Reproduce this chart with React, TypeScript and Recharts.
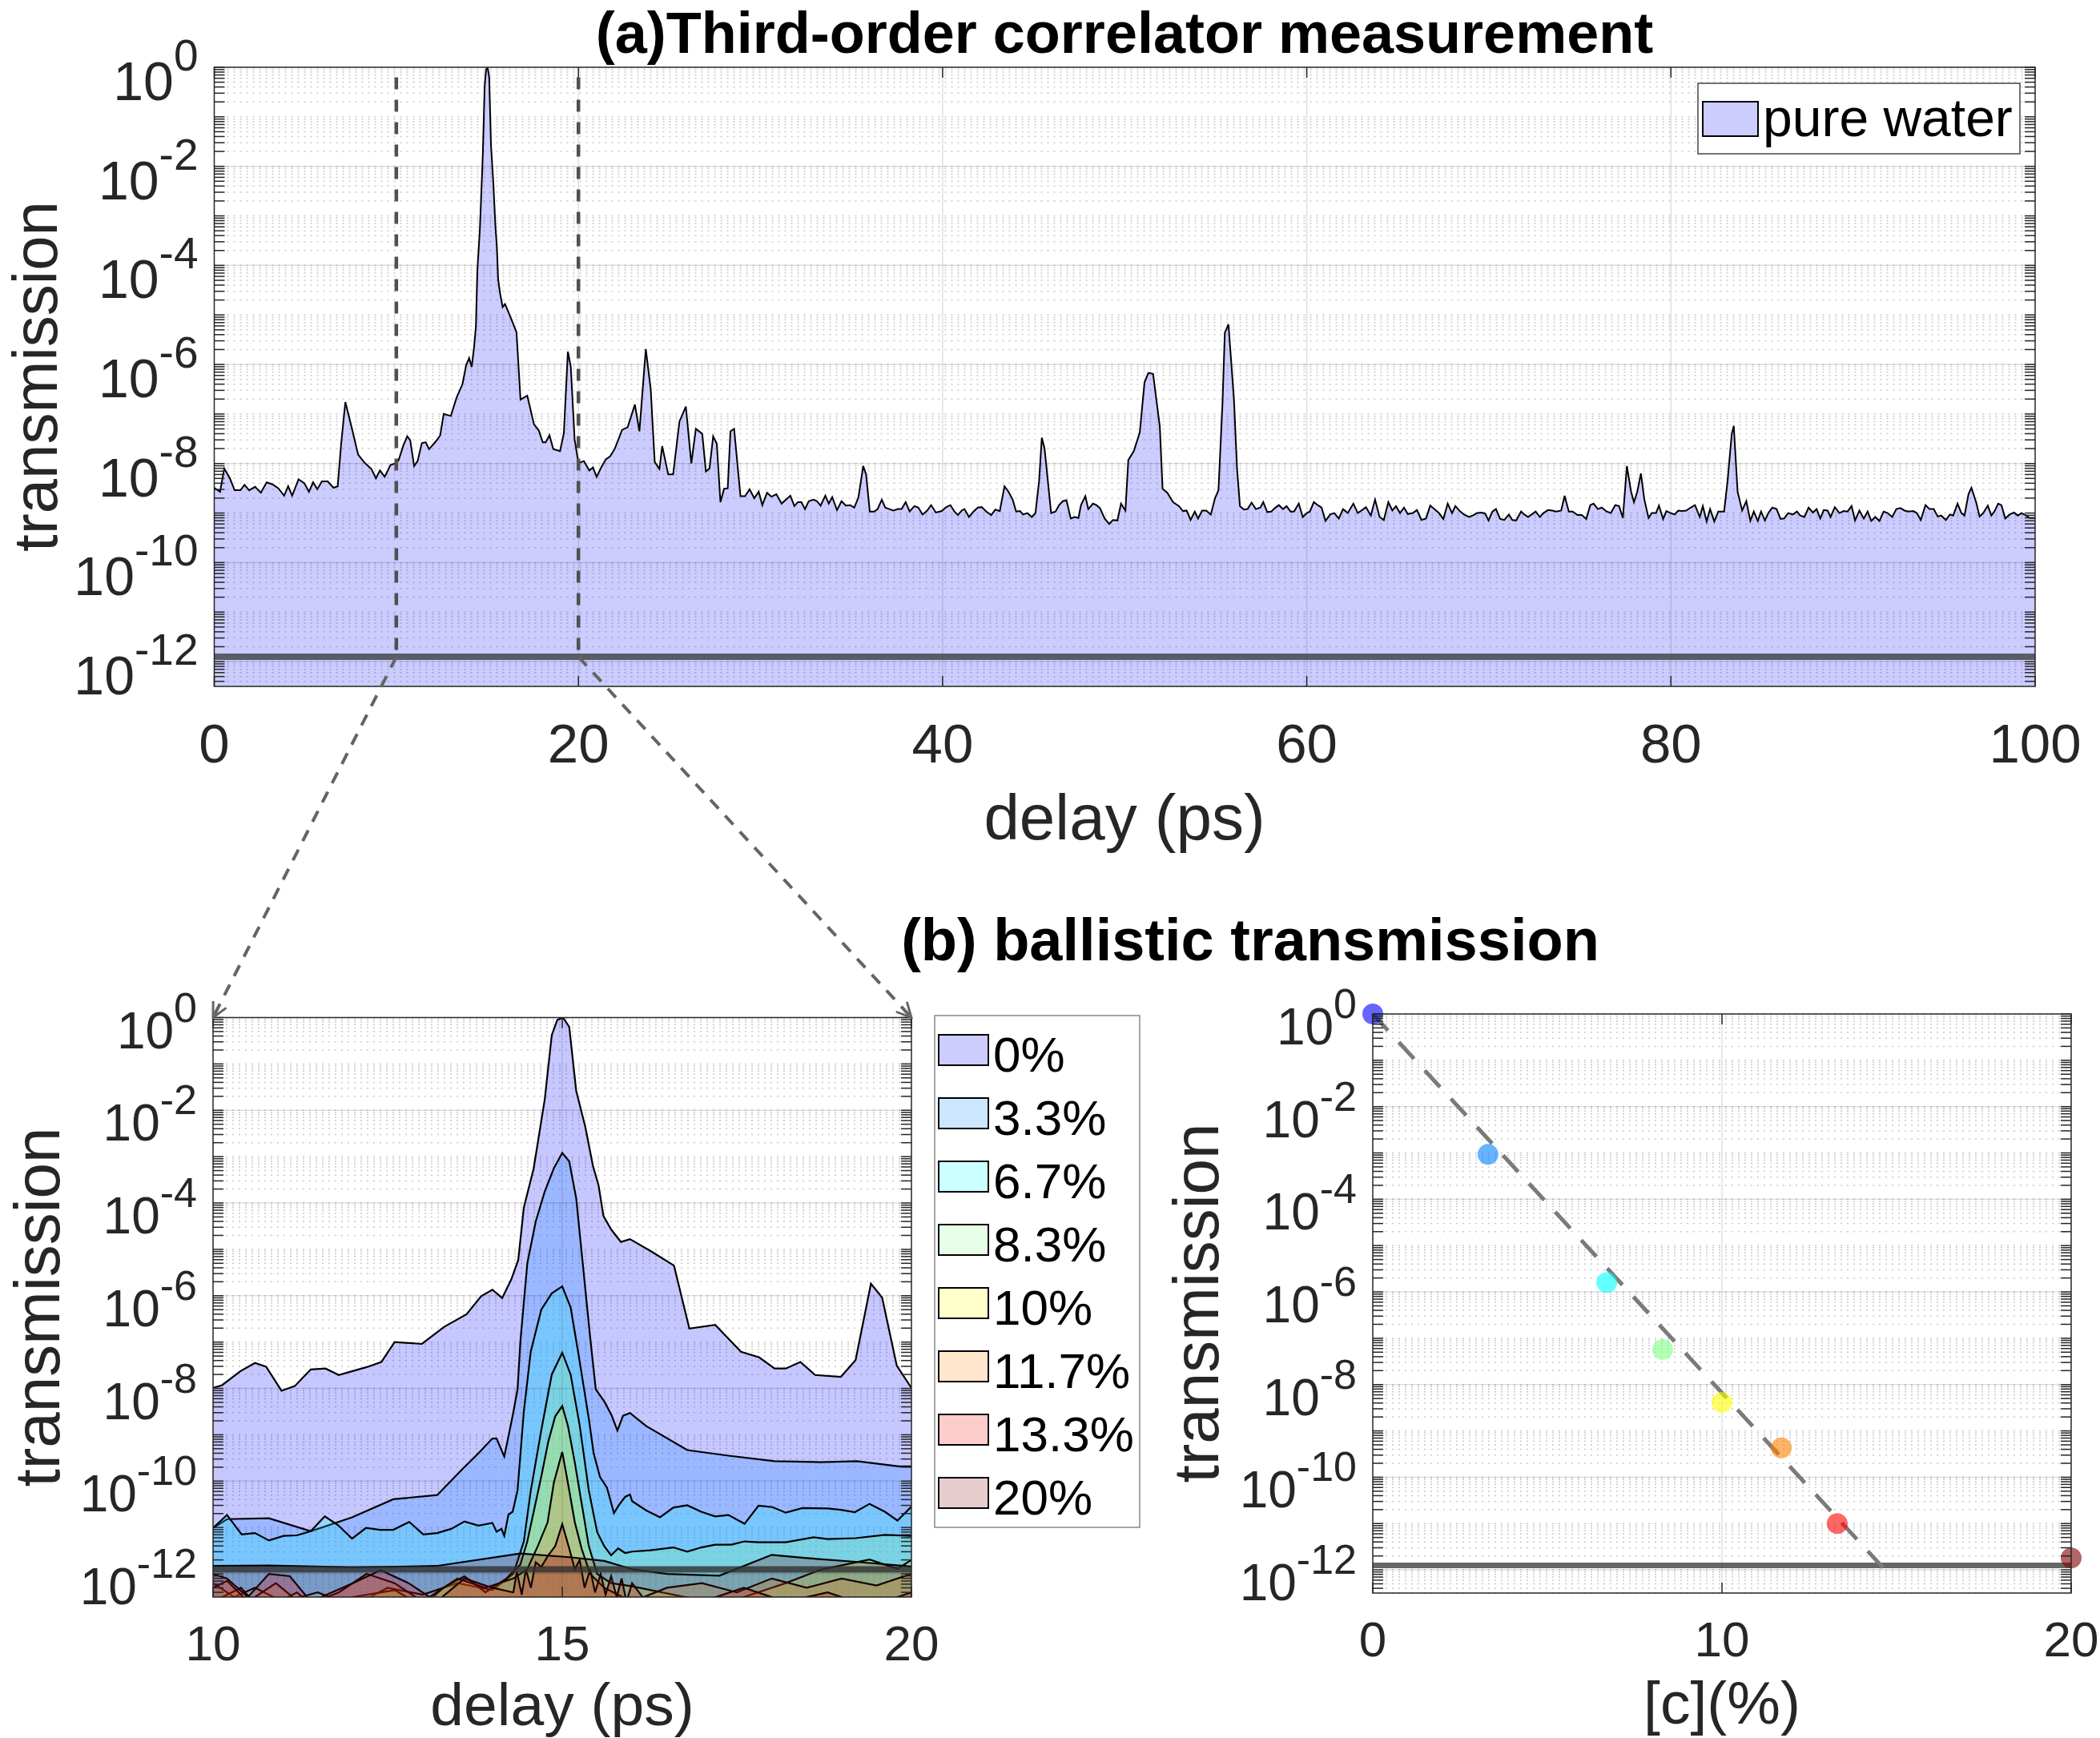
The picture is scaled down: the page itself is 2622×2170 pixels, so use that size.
import React from 'react';
import {
  ComposedChart,
  Area,
  Line,
  Scatter,
  XAxis,
  YAxis,
  CartesianGrid,
  ReferenceLine,
} from 'recharts';

// ---------- data (delay in ps, log10 of transmission) ----------

// pure water trace outside the 10-20 ps zoom window
const waterEarly: [number, number][] = [
  [0, -8.49], [0.32, -8.57], [0.55, -8.1], [0.86, -8.3], [1.12, -8.54], [1.44, -8.54], [1.66, -8.43],
  [1.92, -8.54], [2.24, -8.47], [2.56, -8.59], [2.88, -8.38], [3.2, -8.42], [3.52, -8.5], [3.84, -8.65],
  [4.06, -8.46], [4.28, -8.65], [4.63, -8.32], [4.95, -8.4], [5.2, -8.57], [5.43, -8.38], [5.66, -8.52],
  [5.91, -8.36], [6.23, -8.36], [6.55, -8.49], [6.78, -8.46], [6.97, -7.6], [7.2, -6.76], [7.54, -7.26],
  [7.9, -7.82], [8.27, -7.99], [8.63, -8.11], [8.88, -8.3], [9.1, -8.14], [9.36, -8.27], [9.68, -8.03],
];

const waterLate: [number, number][] = [
  [20.3, -7.95], [20.6, -8.14], [20.8, -8.08], [21.0, -8.27], [21.25, -8.08], [21.5, -7.92], [21.75, -7.85],
  [22.0, -7.7], [22.4, -7.32], [22.7, -7.27], [23.1, -6.81], [23.35, -7.35], [23.7, -5.69], [23.97, -6.5],
  [24.19, -7.97], [24.45, -8.11], [24.6, -7.65], [24.93, -8.22], [25.2, -8.22], [25.55, -7.15], [25.9, -6.85],
  [26.2, -8.0], [26.45, -7.3], [26.8, -7.4], [27.0, -8.16], [27.2, -8.1], [27.4, -7.45], [27.6, -7.6],
  [27.8, -8.78], [28.0, -8.51], [28.2, -8.5], [28.35, -7.35], [28.55, -7.3], [28.9, -8.66], [29.15, -8.66],
  [29.4, -8.52], [29.66, -8.7], [29.9, -8.57], [30.1, -8.84], [30.36, -8.59], [30.6, -8.67], [30.87, -8.62],
  [31.16, -8.81], [31.4, -8.73], [31.64, -8.65], [31.86, -8.86], [32.05, -8.78], [32.25, -8.78], [32.44, -8.92],
  [32.65, -8.76], [32.92, -8.73], [33.1, -8.76], [33.3, -8.85], [33.56, -8.65], [33.75, -8.81], [33.94, -8.68],
  [34.2, -8.94], [34.45, -8.76], [34.68, -8.85], [34.93, -8.84], [35.15, -8.89], [35.38, -8.68], [35.64, -8.05],
  [35.8, -8.22], [36.0, -8.97], [36.25, -8.97], [36.43, -8.92], [36.66, -8.73], [36.85, -8.89], [37.07, -8.92],
  [37.3, -8.95], [37.55, -8.92], [37.75, -8.92], [37.97, -8.78], [38.19, -8.97], [38.45, -8.86], [38.67, -8.89],
  [38.9, -9.03], [39.15, -8.95], [39.37, -8.84], [39.63, -8.99], [39.95, -8.96], [40.2, -8.88], [40.43, -8.84],
  [40.65, -8.97], [40.84, -9.04], [41.05, -8.95], [41.2, -8.92], [41.45, -9.08], [41.7, -8.97], [41.93, -8.89],
  [42.15, -8.88], [42.4, -8.97], [42.67, -9.04], [42.9, -8.93], [43.14, -8.96], [43.4, -8.46], [43.62, -8.57],
  [43.85, -8.73], [44.04, -8.97], [44.25, -8.96], [44.42, -9.03], [44.65, -9.0], [44.9, -9.08], [45.1, -9.0],
  [45.3, -8.35], [45.45, -7.48], [45.6, -7.7], [45.96, -9.0], [46.2, -8.97], [46.4, -8.84], [46.6, -8.76],
  [46.8, -8.74], [47.04, -9.11], [47.25, -9.08], [47.46, -9.1], [47.6, -8.84], [47.84, -8.66], [48.0, -8.92],
  [48.26, -8.81], [48.45, -8.84], [48.64, -8.9], [48.9, -9.11], [49.15, -9.22], [49.35, -9.14], [49.6, -9.15],
  [49.8, -8.81], [50.04, -8.95], [50.2, -7.93], [50.5, -7.75], [50.83, -7.37], [51.09, -6.36], [51.3, -6.17],
  [51.56, -6.19], [51.93, -7.26], [52.08, -8.51], [52.34, -8.59], [52.66, -8.78], [52.98, -8.86], [53.2, -8.96],
  [53.4, -8.95], [53.62, -9.14], [53.85, -8.97], [54.03, -9.11], [54.25, -8.95], [54.48, -8.95], [54.73, -9.03],
  [54.96, -8.7], [55.15, -8.54], [55.37, -6.8], [55.5, -5.36], [55.7, -5.19], [56.0, -6.7], [56.17, -8.1],
  [56.33, -8.86], [56.55, -8.93], [56.75, -8.92], [56.97, -8.79], [57.2, -8.92], [57.45, -8.89], [57.61, -8.78],
  [57.83, -8.98], [58.05, -8.97], [58.25, -8.9], [58.47, -8.84], [58.7, -8.92], [58.89, -8.86], [59.11, -8.97],
  [59.3, -8.97], [59.56, -8.81], [59.78, -9.08], [60.0, -9.0], [60.17, -8.97], [60.39, -8.78], [60.6, -8.84],
  [60.81, -8.89], [61.03, -9.16], [61.28, -9.03], [61.51, -9.0], [61.76, -9.11], [61.99, -8.92], [62.25, -9.0],
  [62.56, -8.81], [62.8, -9.0], [63.04, -8.94], [63.25, -8.88], [63.52, -9.05], [63.75, -8.73], [64.0, -9.08],
  [64.23, -9.14], [64.48, -8.78], [64.7, -8.95], [64.9, -8.86], [65.12, -9.0], [65.34, -8.89], [65.55, -9.02],
  [65.82, -9.0], [66.05, -8.94], [66.3, -9.14], [66.55, -9.11], [66.78, -8.85], [67.0, -8.92], [67.26, -9.0],
  [67.5, -9.12], [67.74, -8.81], [67.98, -9.0], [68.16, -8.86], [68.4, -8.96], [68.64, -9.03], [68.9, -9.08],
  [69.12, -9.05], [69.35, -9.0], [69.6, -8.99], [69.8, -9.01], [69.98, -9.15], [70.2, -8.97], [70.39, -8.92],
  [70.62, -9.12], [70.85, -9.14], [71.1, -9.03], [71.29, -9.14], [71.5, -9.15], [71.77, -8.97], [71.95, -9.03],
  [72.15, -9.08], [72.35, -9.03], [72.57, -8.97], [72.8, -9.08], [73.0, -9.0], [73.25, -8.94], [73.49, -8.95],
  [73.7, -8.97], [73.97, -8.95], [74.16, -8.65], [74.39, -8.97], [74.6, -8.97], [74.87, -9.04], [75.1, -9.04],
  [75.35, -9.12], [75.57, -8.84], [75.75, -8.81], [75.99, -8.92], [76.2, -8.89], [76.47, -8.97], [76.7, -9.0],
  [76.94, -8.84], [77.15, -8.86], [77.36, -9.1], [77.58, -8.05], [77.81, -8.57], [77.97, -8.78], [78.15, -8.57],
  [78.35, -8.2], [78.54, -8.73], [78.77, -9.1], [78.95, -9.0], [79.18, -9.0], [79.34, -8.85], [79.57, -9.12],
  [79.75, -8.96], [79.98, -9.0], [80.2, -9.03], [80.4, -8.95], [80.6, -8.96], [80.84, -8.95], [81.08, -8.89],
  [81.32, -8.84], [81.58, -9.08], [81.75, -8.86], [81.96, -9.17], [82.15, -8.92], [82.38, -9.17], [82.6, -8.97],
  [82.92, -8.97], [83.11, -8.35], [83.34, -7.4], [83.45, -7.24], [83.66, -8.57], [83.91, -8.95], [84.14, -8.76],
  [84.36, -9.16], [84.55, -8.97], [84.77, -9.16], [84.95, -8.97], [85.16, -9.15], [85.35, -9.0], [85.57, -8.89],
  [85.8, -8.92], [86.02, -9.12], [86.22, -9.11], [86.44, -9.0], [86.7, -9.03], [86.92, -8.97], [87.1, -9.05],
  [87.33, -9.08], [87.56, -8.89], [87.8, -8.99], [88.0, -8.92], [88.2, -9.11], [88.39, -8.94], [88.6, -8.95],
  [88.77, -9.08], [89.0, -8.88], [89.25, -9.0], [89.48, -8.96], [89.7, -8.97], [89.92, -8.86], [90.11, -9.15],
  [90.35, -8.95], [90.59, -9.11], [90.8, -8.97], [91.0, -9.16], [91.22, -9.08], [91.45, -9.16], [91.68, -8.97],
  [91.9, -9.0], [92.15, -9.08], [92.38, -8.92], [92.6, -8.9], [92.83, -8.95], [93.05, -8.97], [93.31, -8.96],
  [93.5, -9.0], [93.72, -9.14], [93.98, -8.84], [94.2, -8.92], [94.43, -8.92], [94.65, -9.07], [94.84, -9.05],
  [95.1, -9.14], [95.32, -9.03], [95.5, -9.05], [95.74, -8.81], [95.95, -9.0], [96.12, -9.05], [96.34, -8.62],
  [96.5, -8.49], [96.76, -8.78], [96.95, -9.07], [97.15, -9.0], [97.4, -8.85], [97.6, -9.05], [97.78, -8.96],
  [97.97, -8.81], [98.15, -8.84], [98.36, -9.11], [98.6, -9.03], [98.84, -8.99], [99.05, -9.05], [99.25, -9.0],
  [99.5, -9.05], [99.7, -9.1], [100, -9.1],
];

// zoom window 10-20 ps, one trace per concentration
const trace0: [number, number][] = [
  [10, -7.99], [10.13, -7.93], [10.39, -7.63], [10.6, -7.45], [10.76, -7.53], [10.98, -8.05], [11.17, -7.95],
  [11.4, -7.59], [11.61, -7.57], [11.8, -7.71], [12.2, -7.54], [12.41, -7.43], [12.6, -7.0], [12.99, -7.04],
  [13.31, -6.67], [13.63, -6.4], [13.84, -6.01], [14.0, -5.87], [14.14, -6.05], [14.27, -5.65], [14.37, -5.23],
  [14.45, -4.1], [14.59, -3.26], [14.75, -1.76], [14.85, -0.38], [14.93, -0.05], [15.01, 0], [15.1, -0.2],
  [15.2, -1.58], [15.33, -2.36], [15.44, -3.2], [15.52, -3.62], [15.59, -4.28], [15.7, -4.57], [15.84, -4.84],
  [15.97, -4.78], [16.28, -5.05], [16.6, -5.35], [16.82, -6.71], [17.19, -6.63], [17.56, -7.21], [17.82, -7.33],
  [18.04, -7.57], [18.2, -7.57], [18.41, -7.43], [18.62, -7.71], [18.99, -7.75], [19.2, -7.39], [19.42, -5.74],
  [19.58, -6.04], [19.79, -7.51], [20, -7.99],
];
const trace33: [number, number][] = [
  [10, -11.01], [10.2, -10.82], [10.8, -10.8], [11.4, -11.08], [11.99, -10.78], [12.58, -10.39], [13.21, -10.3],
  [13.57, -9.74], [13.8, -9.4], [14.0, -9.08], [14.06, -9.08], [14.17, -9.47], [14.29, -8.59], [14.36, -8.02],
  [14.4, -7.0], [14.5, -5.3], [14.62, -4.4], [14.75, -3.75], [14.88, -3.25], [15.0, -2.92], [15.1, -3.1],
  [15.2, -3.9], [15.3, -5.4], [15.4, -6.9], [15.48, -8.02], [15.61, -8.3], [15.71, -8.59], [15.79, -8.91],
  [15.87, -8.59], [15.97, -8.53], [16.2, -8.81], [16.79, -9.33], [17.38, -9.45], [18.04, -9.57], [18.7, -9.59],
  [19.22, -9.57], [19.82, -9.68], [20, -9.68],
];
const trace67: [number, number][] = [
  [10, -11.01], [10.2, -10.73], [10.41, -11.15], [10.6, -11.12], [10.8, -11.28], [11.01, -11.18], [11.2, -11.17],
  [11.4, -11.08], [11.6, -10.76], [11.79, -10.95], [11.99, -11.24], [12.19, -11.01], [12.39, -11.05], [12.58, -11.05],
  [12.81, -10.88], [13.01, -11.15], [13.21, -11.12], [13.41, -11.03], [13.6, -10.87], [13.8, -10.96], [14.0, -10.9],
  [14.06, -11.09], [14.13, -11.03], [14.17, -11.18], [14.23, -10.72], [14.29, -10.66], [14.36, -10.2], [14.45, -8.5],
  [14.55, -7.2], [14.7, -6.3], [14.85, -5.95], [15.0, -5.8], [15.12, -6.25], [15.24, -7.33], [15.38, -8.65],
  [15.45, -9.4], [15.54, -9.91], [15.64, -10.14], [15.74, -10.69], [15.81, -10.52], [15.9, -10.34], [15.97, -10.29],
  [16.0, -10.43], [16.2, -10.63], [16.4, -10.78], [16.59, -10.57], [16.79, -10.52], [16.99, -10.66], [17.19, -10.76],
  [17.38, -10.73], [17.61, -10.92], [17.81, -10.53], [18.01, -10.56], [18.2, -10.68], [18.44, -10.58], [18.8, -10.59],
  [18.99, -10.62], [19.19, -10.67], [19.4, -10.49], [19.62, -10.66], [19.8, -10.85], [20, -10.55],
];
const trace83: [number, number][] = [
  [10, -12.2], [10.3, -12.5], [10.6, -12.3], [11, -12.6], [11.5, -12.4], [12, -12.7], [12.5, -12.3], [13, -12.45],
  [13.5, -12.2], [14.0, -12.35], [14.3, -12.0], [14.45, -11.3], [14.55, -10.2], [14.7, -8.9], [14.85, -7.7],
  [15.0, -7.23], [15.12, -7.7], [15.25, -8.8], [15.38, -10.2], [15.5, -11.1], [15.6, -11.4], [15.7, -11.6],
  [15.8, -11.45], [15.9, -11.55], [16.0, -11.52], [16.26, -11.49], [16.59, -11.43], [16.79, -11.52], [16.99, -11.43],
  [17.19, -11.37], [17.42, -11.37], [17.61, -11.3], [17.81, -11.32], [18.2, -11.32], [18.6, -11.21], [18.8, -11.25],
  [19.2, -11.23], [19.62, -11.16], [20, -11.18],
];
const trace10: [number, number][] = [
  [10, -12.6], [10.4, -12.3], [10.7, -12.8], [11.2, -12.4], [11.6, -12.9], [12.0, -12.5], [12.6, -12.35],
  [13.0, -12.7], [13.3, -12.3], [13.6, -12.05], [13.9, -12.4], [14.2, -12.1], [14.4, -11.8], [14.5, -11.3],
  [14.6, -10.6], [14.7, -9.9], [14.8, -9.15], [14.9, -8.6], [15.0, -8.38], [15.08, -8.8], [15.18, -9.6],
  [15.28, -10.5], [15.38, -11.4], [15.5, -12.0], [15.7, -12.2], [16.0, -12.27], [16.79, -12.51], [17.2, -12.7],
  [17.8, -12.4], [18.2, -12.2], [18.7, -11.91], [19.4, -11.69], [19.8, -11.89], [20, -11.7],
];
const trace117: [number, number][] = [
  [10, -12.3], [10.2, -12.15], [10.5, -12.6], [10.9, -12.2], [11.3, -12.7], [11.8, -12.4], [12.2, -12.0],
  [12.6, -12.2], [13.0, -12.6], [13.5, -12.1], [13.9, -12.3], [14.3, -12.1], [14.5, -11.9], [14.65, -11.4],
  [14.79, -10.89], [14.88, -10.03], [15.0, -9.37], [15.08, -10.03], [15.18, -10.89], [15.28, -11.47], [15.4, -12.0],
  [15.6, -12.3], [16.0, -12.6], [16.5, -12.3], [17.0, -12.2], [17.5, -12.4], [18.0, -12.1], [18.5, -12.3],
  [19.0, -12.1], [19.5, -12.25], [20, -12.0],
];
const trace133: [number, number][] = [
  [10, -12.0], [10.2, -12.1], [10.5, -12.5], [10.8, -12.0], [11.1, -12.05], [11.4, -12.6], [12.0, -12.2],
  [12.4, -11.92], [12.8, -12.2], [13.2, -12.6], [13.6, -12.1], [14.0, -12.3], [14.3, -12.4], [14.35, -11.95],
  [14.42, -12.45], [14.48, -11.9], [14.55, -12.3], [14.62, -11.75], [14.7, -11.85], [14.8, -11.6], [14.9, -11.4],
  [15.0, -10.93], [15.1, -11.45], [15.18, -11.9], [15.25, -11.7], [15.32, -12.3], [15.4, -11.9], [15.47, -12.4],
  [15.55, -12.0], [15.62, -12.45], [15.7, -12.05], [15.78, -12.5], [15.85, -12.1], [15.92, -12.6], [16.0, -12.2],
  [16.3, -12.8], [17.0, -12.6], [17.6, -12.3], [18.2, -12.6], [18.8, -12.4], [19.4, -12.7], [20, -12.4],
];
const trace20: [number, number][] = [
  [10, -11.83], [10.8, -11.82], [12, -11.86], [13.2, -11.83], [14.4, -11.56], [15.1, -11.64], [15.6, -11.72],
  [16.0, -11.9], [16.5, -12.0], [17.25, -12.04], [18.0, -11.59], [18.5, -11.66], [19.2, -11.74], [20, -11.84],
];

const concLabels = ['0%', '3.3%', '6.7%', '8.3%', '10%', '11.7%', '13.3%', '20%'];
const concValues = [0, 3.3, 6.7, 8.3, 10, 11.7, 13.3, 20];
const seriesColors = ['#0000ff', '#0080ff', '#00ffff', '#80ff80', '#ffff00', '#ff8000', '#ff0000', '#800000'];
const zoomTraces = [trace0, trace33, trace67, trace83, trace10, trace117, trace133, trace20];

// ballistic (peak) transmission per concentration
const ballisticT = [1.0, 9.3e-4, 1.6e-6, 5.7e-8, 4.1e-9, 4.3e-10, 1.0e-11, 1.8e-12];
const fitC = [0, 14.9];
const fitT = [1, 6.5e-13];
const noiseFloor = 1.25e-12;

// ---------- layout ----------
const FONT = '"Liberation Sans", Arial, Helvetica, sans-serif';
const INK = '#262626';
const Y_MIN = Math.pow(10, -12.5);
const Y_DOMAIN: [number, number] = [Y_MIN, 1];

type Rect = { l: number; t: number; r: number; b: number };
type Panel = { left: number; top: number; width: number; height: number; plot: Rect };

const TOP: Panel = { left: 0, top: 0, width: 2622, height: 1100, plot: { l: 267.5, t: 84, r: 2541, b: 857 } };
const BL: Panel = { left: 0, top: 1150, width: 1450, height: 1020, plot: { l: 266, t: 1270.5, r: 1138, b: 1994 } };
const BR: Panel = { left: 1450, top: 1150, width: 1172, height: 1020, plot: { l: 1714, t: 1266, r: 2586, b: 1989 } };
const X_AXIS_H = 60;

const localPlot = (p: Panel): Rect => ({
  l: p.plot.l - p.left, t: p.plot.t - p.top, r: p.plot.r - p.left, b: p.plot.b - p.top,
});
const chartMargin = (p: Panel) => ({
  top: p.plot.t - p.top,
  right: p.left + p.width - p.plot.r,
  bottom: p.top + p.height - p.plot.b - X_AXIS_H,
  left: 0,
});

// log axis ticks: every decade plus 2..9 minors
const logTicks: number[] = [];
for (let e = -13; e <= 0; e++) {
  for (let k = 1; k <= 9; k++) {
    const v = k * Math.pow(10, e);
    if (v >= Y_MIN * 0.999 && v <= 1.0001) logTicks.push(v);
  }
}
const majorDecades = [-12, -10, -8, -6, -4, -2];

const toPoints = (pairs: [number, number][]) => pairs.map(([x, lg]) => ({ x, y: Math.pow(10, lg) }));
const waterData = toPoints([...waterEarly, ...trace0, ...waterLate]);
const zoomData = zoomTraces.map(toPoints);
const ballisticData = concValues.map((c, i) => ({ c, t: ballisticT[i], color: seriesColors[i] }));
const fitData = fitC.map((c, i) => ({ c, t: fitT[i] }));

const makeYTick = (p: Rect, big: number, sup: number, base: number, lift: number) => (props: any) => {
  const { y, payload } = props;
  const e = Math.log10(payload.value);
  const re = Math.round(e);
  const labelled = Math.abs(e - re) < 1e-6 && re % 2 === 0;
  return (
    <g>
      <line x1={p.l} x2={p.l + 13} y1={y} y2={y} stroke={INK} strokeWidth={1.5} />
      <line x1={p.r - 13} x2={p.r} y1={y} y2={y} stroke={INK} strokeWidth={1.5} />
      {labelled && (
        <text x={p.l - 20} y={y + base} textAnchor="end" fontSize={big} fill={INK} fontFamily={FONT}>
          10
          <tspan dy={-lift} fontSize={sup}>{String(re === 0 ? 0 : re)}</tspan>
        </text>
      )}
    </g>
  );
};

const makeXTick = (p: Rect, size: number, offset: number) => (props: any) => {
  const { x, payload } = props;
  return (
    <g>
      <line x1={x} x2={x} y1={p.b} y2={p.b - 13} stroke={INK} strokeWidth={1.5} />
      <line x1={x} x2={x} y1={p.t} y2={p.t + 13} stroke={INK} strokeWidth={1.5} />
      <text x={x} y={p.b + offset} textAnchor="middle" fontSize={size} fill={INK} fontFamily={FONT}>
        {payload.value}
      </text>
    </g>
  );
};

const minorGrid = (
  <CartesianGrid vertical={false} stroke={INK} strokeOpacity={0.25} strokeDasharray="2 6" strokeWidth={1.5} />
);
const majorGridY = majorDecades.map((e) => (
  <ReferenceLine key={`gy${e}`} y={Math.pow(10, e)} stroke={INK} strokeOpacity={0.15} strokeWidth={1.5} />
));

const TopChart = () => {
  const lp = localPlot(TOP);
  return (
    <ComposedChart width={TOP.width} height={TOP.height} margin={chartMargin(TOP)}>
      {minorGrid}
      {majorGridY}
      {[20, 40, 60, 80].map((v) => (
        <ReferenceLine key={`gx${v}`} x={v} stroke={INK} strokeOpacity={0.15} strokeWidth={1.5} />
      ))}
      <XAxis type="number" dataKey="x" domain={[0, 100]} ticks={[0, 20, 40, 60, 80, 100]} allowDataOverflow
        height={X_AXIS_H} axisLine={false} tickLine={false} interval={0} tick={makeXTick(lp, 69, 95)} />
      <YAxis type="number" scale="log" domain={Y_DOMAIN} allowDataOverflow ticks={logTicks} interval={0}
        width={lp.l} axisLine={false} tickLine={false} tick={makeYTick(lp, 68, 55, 41, 37)} />
      <Area data={waterData} dataKey="y" type="linear" baseValue="dataMin" stroke="#000" strokeWidth={2}
        fill="#0000ff" fillOpacity={0.2} isAnimationActive={false} />
      <ReferenceLine y={noiseFloor} stroke="#404040" strokeOpacity={0.8} strokeWidth={8} />
      {[10, 20].map((v) => (
        <ReferenceLine key={`dz${v}`} segment={[{ x: v, y: 0.63 }, { x: v, y: noiseFloor }]}
          stroke="#505050" strokeWidth={4.5} strokeDasharray="15 13" />
      ))}
    </ComposedChart>
  );
};

const ZoomChart = () => {
  const lp = localPlot(BL);
  return (
    <ComposedChart width={BL.width} height={BL.height} margin={chartMargin(BL)}>
      {minorGrid}
      {majorGridY}
      <ReferenceLine x={15} stroke={INK} strokeOpacity={0.15} strokeWidth={1.5} />
      <XAxis type="number" dataKey="x" domain={[10, 20]} ticks={[10, 15, 20]} allowDataOverflow
        height={X_AXIS_H} axisLine={false} tickLine={false} interval={0} tick={makeXTick(lp, 62, 79)} />
      <YAxis type="number" scale="log" domain={Y_DOMAIN} allowDataOverflow ticks={logTicks} interval={0}
        width={lp.l} axisLine={false} tickLine={false} tick={makeYTick(lp, 64, 52, 38, 33)} />
      {zoomData.map((d, i) => (
        <Area key={concLabels[i]} data={d} dataKey="y" type="linear" baseValue="dataMin" stroke="#000"
          strokeWidth={2.2} fill={seriesColors[i]} fillOpacity={0.22} isAnimationActive={false} />
      ))}
      <ReferenceLine y={noiseFloor} stroke="#303030" strokeOpacity={0.8} strokeWidth={8} />
    </ComposedChart>
  );
};

const BallisticChart = () => {
  const lp = localPlot(BR);
  return (
    <ComposedChart width={BR.width} height={BR.height} margin={chartMargin(BR)}>
      {minorGrid}
      {majorGridY}
      <ReferenceLine x={10} stroke={INK} strokeOpacity={0.15} strokeWidth={1.5} />
      <XAxis type="number" dataKey="c" domain={[0, 20]} ticks={[0, 10, 20]}
        height={X_AXIS_H} axisLine={false} tickLine={false} interval={0} tick={makeXTick(lp, 62, 79)} />
      <YAxis type="number" dataKey="t" scale="log" domain={Y_DOMAIN} ticks={logTicks} interval={0}
        width={lp.l} axisLine={false} tickLine={false} tick={makeYTick(lp, 64, 52, 38, 33)} />
      <ReferenceLine y={noiseFloor} stroke="#404040" strokeOpacity={0.8} strokeWidth={7} />
      <Line data={fitData} dataKey="t" type="linear" stroke="#7a7a7a" strokeWidth={5} strokeDasharray="28 20"
        dot={false} isAnimationActive={false} />
      <Scatter data={ballisticData} isAnimationActive={false}
        shape={(props: any) => (
          <circle cx={props.cx} cy={props.cy} r={13} fill={props.payload.color} fillOpacity={0.6} />
        )} />
    </ComposedChart>
  );
};

const logY = (p: Rect, v: number) => p.t + (-Math.log10(v) / 12.5) * (p.b - p.t);

const Overlay = () => {
  const tp = TOP.plot;
  const x10 = tp.l + 0.1 * (tp.r - tp.l);
  const x20 = tp.l + 0.2 * (tp.r - tp.l);
  const fy = logY(tp, noiseFloor);
  const bp = BL.plot;
  const boxes = [TOP.plot, BL.plot, BR.plot];
  return (
    <svg width={2622} height={2170} style={{ position: 'absolute', left: 0, top: 0, pointerEvents: 'none' }}
      fontFamily={FONT}>
      <defs>
        <marker id="arr" viewBox="0 0 12 12" refX="11" refY="6" markerWidth="22" markerHeight="22"
          markerUnits="userSpaceOnUse" orient="auto">
          <path d="M1,1 L11,6 L1,11" fill="none" stroke="#646464" strokeWidth={1.6} />
        </marker>
      </defs>
      {boxes.map((b, i) => (
        <rect key={i} x={b.l} y={b.t} width={b.r - b.l} height={b.b - b.t} fill="none" stroke={INK} strokeWidth={1.5} />
      ))}
      <line x1={x10} y1={fy} x2={bp.l} y2={bp.t} stroke="#646464" strokeWidth={4} strokeDasharray="15 12" markerEnd="url(#arr)" />
      <line x1={x20} y1={fy} x2={bp.r} y2={bp.t} stroke="#646464" strokeWidth={4} strokeDasharray="15 12" markerEnd="url(#arr)" />

      <text x={1404} y={66} textAnchor="middle" fontSize={72} fontWeight="bold" fill="#000">
        (a)Third-order correlator measurement
      </text>
      <text x={1561} y={1199} textAnchor="middle" fontSize={74} fontWeight="bold" fill="#000">
        (b) ballistic transmission
      </text>

      <text x={1404} y={1048} textAnchor="middle" fontSize={80} fill={INK}>delay (ps)</text>
      <text transform="translate(71,470) rotate(-90)" textAnchor="middle" fontSize={78} fill={INK}>transmission</text>
      <text x={702} y={2154} textAnchor="middle" fontSize={75} fill={INK}>delay (ps)</text>
      <text transform="translate(74,1632) rotate(-90)" textAnchor="middle" fontSize={80} fill={INK}>transmission</text>
      <text x={2150} y={2152} textAnchor="middle" fontSize={75} fill={INK}>[c](%)</text>
      <text transform="translate(1521,1627) rotate(-90)" textAnchor="middle" fontSize={80} fill={INK}>transmission</text>

      {/* legend (a) */}
      <rect x={2120} y={104} width={402} height={88} fill="#fff" stroke="#444" strokeWidth={1.5} />
      <rect x={2126} y={127} width={69} height={43} fill="#0000ff" fillOpacity={0.2} stroke="#000" strokeWidth={2} />
      <text x={2201} y={170} fontSize={66} fill="#000">pure water</text>

      {/* legend (b, left) */}
      <rect x={1167} y={1268} width={256} height={639} fill="#fff" stroke="#888" strokeWidth={1.5} />
      {concLabels.map((lab, i) => (
        <g key={lab}>
          <rect x={1172} y={1292 + i * 79} width={62} height={38} fill={seriesColors[i]} fillOpacity={0.2}
            stroke="#000" strokeWidth={2} />
          <text x={1240} y={1338 + i * 79} fontSize={62} fill="#000">{lab}</text>
        </g>
      ))}
    </svg>
  );
};

const panelStyle = (p: Panel): React.CSSProperties => ({
  position: 'absolute', left: p.left, top: p.top, width: p.width, height: p.height,
});

export default function App() {
  return (
    <div style={{ position: 'absolute', left: 0, top: 0, width: 2622, height: 2170, background: '#fff', fontFamily: FONT }}>
      <div style={panelStyle(TOP)}><TopChart /></div>
      <div style={panelStyle(BL)}><ZoomChart /></div>
      <div style={panelStyle(BR)}><BallisticChart /></div>
      <Overlay />
    </div>
  );
}
